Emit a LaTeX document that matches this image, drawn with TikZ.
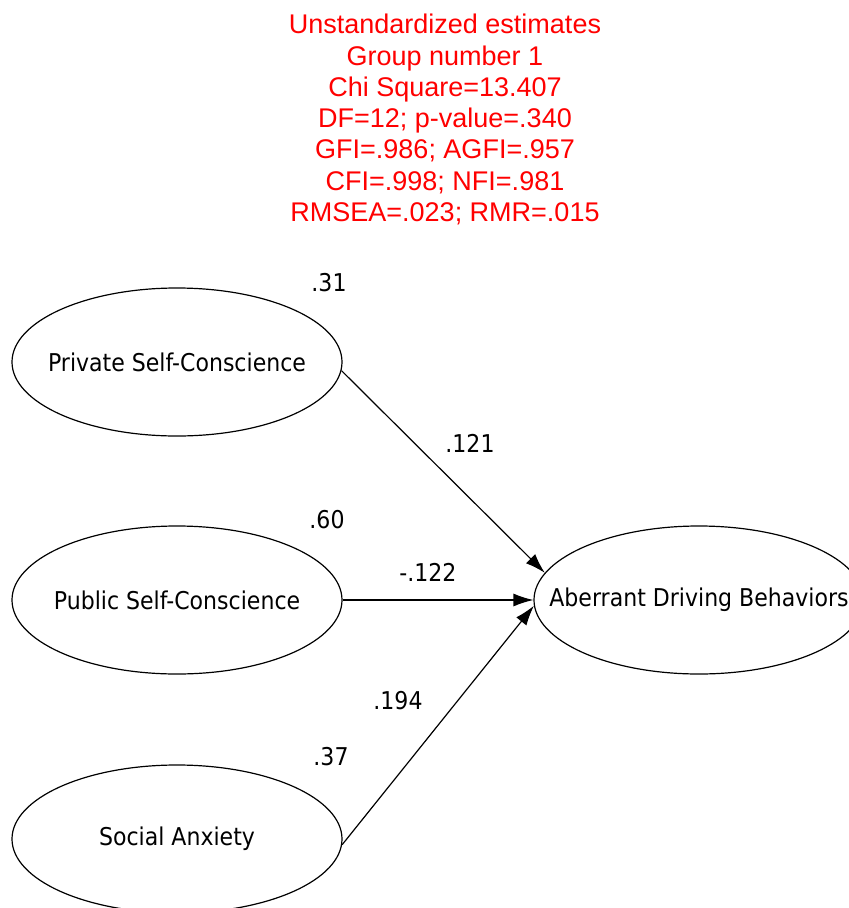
\documentclass[tikz,border=0pt]{standalone}
\usepackage{fontspec}
\usepackage{tikz}
\usetikzlibrary{arrows.meta,shapes.geometric}
\newfontfamily\labelfont{DejaVu Sans}[FakeStretch=0.9]
\newfontfamily\headfont{Liberation Sans}

\begin{document}
\begin{tikzpicture}[x=1pt,y=-1pt,
latent/.style={ellipse,draw,line width=1.2pt,minimum width=330pt,minimum height=148pt,inner sep=0pt,
  label={[font=\labelfont\fontsize{24.5}{28}\selectfont]center:#1}},
coef/.style={font=\labelfont\fontsize{24.5}{28}\selectfont,inner sep=0pt},
path/.style={line width=1.2pt,-{Latex[length=20pt,width=13pt]}}]

\useasboundingbox (0,0) rectangle (849,908);

\node[anchor=north,align=center,inner sep=0pt,text=red,font=\headfont\fontsize{27}{31.3}\selectfont] (fit) at (445,14)
{Unstandardized estimates\\Group number 1\\Chi Square=13.407\\DF=12; p-value=.340\\GFI=.986; AGFI=.957\\CFI=.998; NFI=.981\\RMSEA=.023; RMR=.015};

\node[latent={Private Self-Conscience}] (psc) at (177,362) {};
\node[latent={Public Self-Conscience}] (pub) at (177,600) {};
\node[latent={Social Anxiety}] (soc) at (177,839) {};
\node[latent={Aberrant Driving Behaviors}] (adb) at (699,600) {};

\node[coef] (vpsc) at (329,283) {.31};
\node[coef] (vpub) at (327,520) {.60};
\node[coef] (vsoc) at (331,757) {.37};
\node[coef] (wpsc) at (470,443) {.121};
\node[coef] (wpub) at (428,572) {-.122};
\node[coef] (wsoc) at (398,701) {.194};

\foreach \src/\a/\b in {psc/-3.5/170.7,pub/0/180,soc/-2/182.4}
{
\draw[path] (\src.\a) -- (adb.\b);
}
\end{tikzpicture}
\end{document}
